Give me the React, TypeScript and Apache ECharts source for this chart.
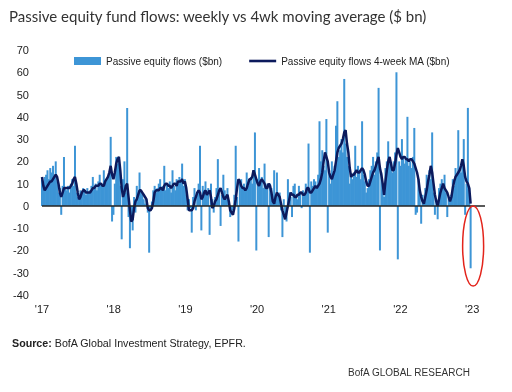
import { useEffect, useRef } from "react";
import * as echarts from "echarts";

const titleText = "Passive equity fund flows: weekly vs 4wk moving average ($ bn)";
const barName = "Passive equity flows ($bn)";
const lineName = "Passive equity flows 4-week MA ($bn)";
const yearLabels = ["'17", "'18", "'19", "'20", "'21", "'22", "'23"];
const startYear = 2017;
const yMin = -40;
const yMax = 70;
const yStep = 10;

const flows2017 = [12, 10, 13, 14, 16, 12, 17, 15, 18, 14, 20, 11, 6, 8, -4, 9, 22, 8, 7, 9, 6, 10, 12, 9, 27, 6, 4, 5, 7, 6, 8, 7, 5, 8, 6, 7, 9, 13, 8, 10, 7, 11, 14, 10, 9, 16, 11, 12, 13, 15, 31, -7];
const flows2018 = [-4, 10, 22, 19, 22, 9, -15, 12, 20, 6, 44, -5, -19, -6, -11, 4, -3, 9, 6, 15, 7, 5, 3, 1, 3, -3, -21, -2, 2, 7, 9, 6, 8, 10, 12, 8, 9, 18, 7, 10, 8, 11, 6, 16, 9, 7, 12, 10, 13, 11, 19, 9];
const flows2019 = [12, 5, -2, 3, -1, -12, 4, 8, -2, 6, 10, 27, -11, 9, 7, 11, 5, 8, -13, 10, 3, -3, 4, 8, 21, 6, -9, 5, 14, 7, 3, 8, 2, -5, -3, -2, 5, 27, 4, -16, 10, 12, 8, 10, 7, 15, 9, 11, 13, 10, 16, 33];
const flows2020 = [-20, 12, 17, 11, 13, 8, 19, 9, 10, -14, 10, 8, 3, 16, 2, 15, 4, 6, -2, -14, 3, -4, -7, 12, 6, 4, -5, 9, 10, 5, 3, 9, 6, -1, 7, 5, 10, 7, 28, -21, 11, 9, 12, 11, 9, 14, 38, 20, 25, 18, 16, 39];
const flows2021 = [-12, 16, 10, 20, 14, 18, 36, 47, 22, 25, 30, 24, 57, 28, 22, 18, 10, 14, 12, 15, 27, 13, 18, 16, 12, 38, 14, 11, 6, 8, 12, 16, 18, 22, 14, 20, 24, 53, -20, 15, 10, 4, 17, 20, 29, 22, 18, 15, 20, 24, 60, -24];
const flows2022 = [20, 18, 30, 22, 19, 21, 40, 18, 20, 17, 22, 35, -4, -3, 12, 6, -8, 5, 2, 8, 14, 10, 16, 12, 33, 6, -4, 3, -6, 8, 10, 12, 9, 14, 6, -5, 4, 2, 5, 12, 9, 17, 14, 34, 16, 15, 20, 30, -4, 10, 44, 8];
const flows2023 = [-28];

const ma2017 = [13, 9, 7, 8, 9, 10, 11, 11, 12, 13, 14, 13, 10, 6, 4, 6, 8, 8, 8, 8, 8, 9, 10, 12, 13, 10, 6, 3, 4, 6, 7, 7, 6, 6, 6, 6, 7, 8, 8, 9, 9, 9, 10, 10, 9, 9, 11, 12, 13, 15, 18, 14];
const ma2018 = [12, 15, 19, 21, 22, 16, 8, 4, 6, 9, 10, 4, -2, -7, -6, -1, 2, 3, 5, 7, 7, 6, 5, 4, 3, -1, -2, -2, -1, 2, 6, 7, 7, 7, 8, 8, 7, 9, 10, 10, 9, 9, 8, 9, 10, 10, 9, 11, 11, 11, 12, 10];
const ma2019 = [11, 8, 3, -2, -2, -2, -1, 2, 4, 6, 7, 6, 3, 4, 6, 7, 5, 6, 7, 4, -1, 0, 2, 3, 5, 7, 8, 6, 4, 3, 4, 5, 2, -2, -3, -4, -1, 3, 8, 12, 11, 9, 8, 8, 7, 8, 10, 12, 12, 13, 16, 14];
const ma2020 = [12, 10, 9, 11, 12, 11, 10, 8, 8, 10, 9, 6, 2, 1, 4, 6, 5, 4, 1, -2, -4, -6, -3, 0, 3, 6, 5, 5, 4, 4, 5, 5, 6, 6, 5, 5, 6, 8, 8, 6, 6, 7, 8, 9, 8, 9, 10, 12, 15, 20, 24, 22];
const ma2021 = [20, 15, 13, 12, 14, 16, 20, 24, 26, 27, 28, 30, 33, 34, 28, 24, 17, 13, 14, 14, 15, 16, 15, 15, 16, 17, 16, 14, 11, 9, 9, 11, 13, 15, 16, 18, 20, 22, 17, 14, 10, 5, 11, 16, 20, 22, 19, 16, 16, 19, 23, 26];
const ma2022 = [24, 22, 21, 22, 22, 21, 21, 20, 21, 21, 20, 19, 17, 15, 12, 7, 4, 2, 1, 4, 7, 11, 14, 18, 15, 10, 5, 2, 0, 3, 6, 8, 10, 8, 7, 6, 4, 2, 4, 8, 11, 13, 14, 15, 16, 18, 21, 18, 13, 11, 10, 8];
const ma2023 = [1];

const flows = [...flows2017, ...flows2018, ...flows2019, ...flows2020, ...flows2021, ...flows2022, ...flows2023];
const ma = [...ma2017, ...ma2018, ...ma2019, ...ma2020, ...ma2021, ...ma2022, ...ma2023];

const sans = "'Liberation Sans', Arial, sans-serif";
const barColor = "#3d95d6";
const lineColor = "#0c1a5c";

export default function App() {
  const ref = useRef<HTMLDivElement>(null);
  useEffect(() => {
    if (!ref.current) return;
    const chart = echarts.init(ref.current, null, { renderer: "svg" });
    const weekPos = flows.map((_, i) => startYear + (i * 7) / 365.25);
    const barData = flows.map((v, i) => [weekPos[i], v]);
    const lineData = ma.map((v, i) => [weekPos[i], v]);
    chart.setOption({
      animation: false,
      title: {
        text: titleText,
        left: 4,
        top: 3,
        textStyle: { fontSize: 15, fontWeight: "normal", color: "#333", fontFamily: "Lato, sans-serif" },
      },
      legend: {
        left: 74,
        top: 56,
        itemWidth: 27,
        itemHeight: 8,
        itemGap: 27,
        itemStyle: { borderWidth: 0 },
        padding: 0,
        textStyle: { fontSize: 10, color: "#222", fontFamily: sans },
        data: [
          { name: barName, icon: "rect" },
          { name: lineName, icon: "path://M0,0 L27,0 L27,2.6 L0,2.6 Z" },
        ],
      },
      grid: { left: 42, right: 27, top: 50, bottom: 97 },
      xAxis: {
        type: "value",
        min: startYear,
        max: 2023.18,
        interval: 1,
        axisLine: { show: false },
        axisTick: { show: false },
        splitLine: { show: false },
        axisLabel: {
          fontSize: 11,
          color: "#222",
          fontFamily: sans,
          margin: 8,
          showMaxLabel: false,
          formatter: (v: number) => yearLabels[Math.round(v - startYear)] ?? "",
        },
      },
      yAxis: {
        type: "value",
        min: yMin,
        max: yMax,
        interval: yStep,
        axisLine: { show: false },
        axisTick: { show: false },
        splitLine: { show: false },
        axisLabel: { fontSize: 11, color: "#222", fontFamily: sans, margin: 13 },
      },
      series: [
        {
          name: barName,
          type: "bar",
          data: barData,
          barWidth: 2,
          itemStyle: { color: barColor },
          markLine: {
            silent: true,
            symbol: "none",
            label: { show: false },
            lineStyle: { color: "#222", width: 1.5, type: "solid" },
            data: [{ yAxis: 0 }],
          },
        },
        {
          name: lineName,
          type: "line",
          data: lineData,
          symbol: "none",
          showSymbol: false,
          lineStyle: { color: lineColor, width: 2.5 },
          itemStyle: { color: lineColor },
        },
      ],
      graphic: [
        {
          type: "text",
          left: 12,
          top: 337,
          style: {
            text: "{b|Source:} BofA Global Investment Strategy, EPFR.",
            fill: "#222",
            fontSize: 10.7,
            fontFamily: sans,
            rich: { b: { fontWeight: "bold", fontSize: 10.7, fontFamily: sans, fill: "#222" } },
          },
        },
        {
          type: "text",
          left: 348,
          top: 367,
          style: { text: "BofA GLOBAL RESEARCH", fill: "#333", fontSize: 10, fontFamily: sans },
        },
      ],
    });
    const last = weekPos[weekPos.length - 1];
    const p0 = chart.convertToPixel({ gridIndex: 0 }, [last, 0]) as number[];
    const p1 = chart.convertToPixel({ gridIndex: 0 }, [last, -36]) as number[];
    chart.setOption({
      graphic: [
        {},
        {},
        {
          type: "ellipse",
          shape: { cx: p0[0] + 2.5, cy: (p0[1] + p1[1]) / 2, rx: 10.5, ry: (p1[1] - p0[1]) / 2 },
          style: { fill: "none", stroke: "#e3241b", lineWidth: 1.5 },
          z: 100,
        },
      ],
    });
    return () => chart.dispose();
  }, []);
  return <div ref={ref} style={{ position: "fixed", left: 0, top: 0, width: 512, height: 392 }} />;
}
